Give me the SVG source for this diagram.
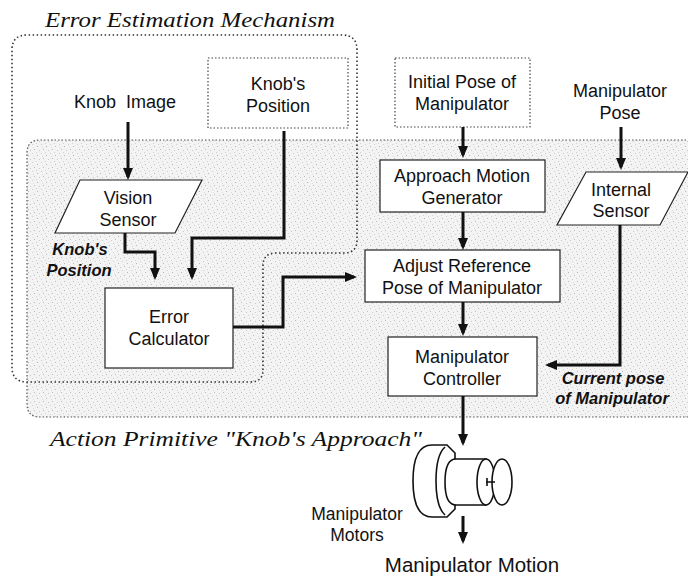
<svg xmlns="http://www.w3.org/2000/svg" width="688" height="577" viewBox="0 0 688 577">
  <defs>
    <!-- fine stipple used for the action-primitive region -->
    <pattern id="stipple" width="9" height="9" patternUnits="userSpaceOnUse">
      <rect width="9" height="9" fill="#f3f3f3"/>
      <rect x="1" y="2" width="1" height="1" fill="#b8b8b8"/>
      <rect x="5" y="0" width="1" height="1" fill="#cfcfcf"/>
      <rect x="7" y="5" width="1" height="1" fill="#bdbdbd"/>
      <rect x="3" y="6" width="1" height="1" fill="#c8c8c8"/>
      <rect x="0" y="8" width="1" height="1" fill="#d2d2d2"/>
      <rect x="6" y="3" width="1" height="1" fill="#dcdcdc"/>
    </pattern>
    <marker id="arrow" viewBox="0 0 12 10" refX="9" refY="5" markerWidth="12" markerHeight="10" markerUnits="userSpaceOnUse" orient="auto">
      <path d="M0,0 L12,5 L0,10 z" fill="#111"/>
    </marker>
  </defs>
  <style>
    .lbl { font-family: "Liberation Sans", Arial, sans-serif; font-size: 18px; fill: #111; text-anchor: middle; }
    .em { font-family: "Liberation Sans", Arial, sans-serif; font-size: 16.5px; font-weight: bold; font-style: italic; fill: #111; text-anchor: middle; }
    .script { font-family: "Liberation Serif", "Times New Roman", serif; font-style: italic; font-size: 21px; fill: #111; }
    .box { fill: #fff; stroke: #222; stroke-width: 1.2; }
    .dbox { fill: #fff; stroke: #444; stroke-width: 1.2; stroke-dasharray: 1.5 2; }
    .region { stroke: #333; stroke-width: 1.6; stroke-dasharray: 1.5 2.5; fill: none; }
    .wire { fill: none; stroke: #111; stroke-width: 3; marker-end: url(#arrow); }
    .part { fill: #fff; stroke: #111; stroke-width: 1.6; }
    .motors { font-size: 17.5px; }
    .motion { font-size: 20.5px; }
  </style>

  <rect width="688" height="577" fill="#fff"/>

  <!-- Action primitive region (shaded) -->
  <g id="action-primitive">
    <path d="M700 140 H40 Q27 140 27 153 V404 Q27 417 40 417 H700 Z" fill="url(#stipple)" stroke="#555" stroke-width="1.2" stroke-dasharray="1.5 2"/>
    <text class="script" x="50" y="446" textLength="372" lengthAdjust="spacingAndGlyphs">Action Primitive  "Knob's Approach"</text>
  </g>

  <!-- Error estimation mechanism boundary -->
  <g id="error-estimation">
    <path class="region" d="M263 370 V266 Q263 253 276 253 H344 Q357 253 357 240 V50 Q357 35 342 35 H27 Q12 35 12 50 V367 Q12 382 27 382 H250 Q263 382 263 370"/>
    <text class="script" x="45" y="27" textLength="290" lengthAdjust="spacingAndGlyphs">Error Estimation Mechanism</text>
  </g>

  <!-- Nodes -->
  <g id="knob-image">
    <text class="lbl" x="125" y="108" xml:space="preserve">Knob  Image</text>
  </g>

  <g id="knobs-position">
    <rect class="dbox" x="208" y="58" width="140" height="70"/>
    <text class="lbl" x="278" y="90">Knob's</text>
    <text class="lbl" x="278" y="112">Position</text>
  </g>

  <g id="vision-sensor">
    <path class="box" d="M80 180 H202 L175 233 H55 Z"/>
    <text class="lbl" x="128" y="204">Vision</text>
    <text class="lbl" x="128" y="226">Sensor</text>
  </g>

  <g id="knobs-position-signal">
    <text class="em" x="80" y="255">Knob's</text>
    <text class="em" x="79" y="276">Position</text>
  </g>

  <g id="error-calculator">
    <rect class="box" x="105" y="288" width="128" height="80"/>
    <text class="lbl" x="169" y="323">Error</text>
    <text class="lbl" x="169" y="345">Calculator</text>
  </g>

  <g id="initial-pose">
    <rect class="dbox" x="395" y="58" width="135" height="69"/>
    <text class="lbl" x="462" y="88">Initial Pose of</text>
    <text class="lbl" x="462" y="110">Manipulator</text>
  </g>

  <g id="approach-motion-generator">
    <rect class="box" x="380" y="160" width="165" height="52"/>
    <text class="lbl" x="462" y="182">Approach Motion</text>
    <text class="lbl" x="462" y="204">Generator</text>
  </g>

  <g id="adjust-reference">
    <rect class="box" x="365" y="250" width="195" height="52"/>
    <text class="lbl" x="462" y="272">Adjust Reference</text>
    <text class="lbl" x="462" y="294">Pose of Manipulator</text>
  </g>

  <g id="manipulator-controller">
    <rect class="box" x="388" y="337" width="149" height="59"/>
    <text class="lbl" x="462" y="363">Manipulator</text>
    <text class="lbl" x="462" y="385">Controller</text>
  </g>

  <g id="manipulator-pose">
    <text class="lbl" x="620" y="97">Manipulator</text>
    <text class="lbl" x="620" y="119">Pose</text>
  </g>

  <g id="internal-sensor">
    <path class="box" d="M586 172 H688 L660 225 H557 Z"/>
    <text class="lbl" x="621" y="196">Internal</text>
    <text class="lbl" x="621" y="217">Sensor</text>
  </g>

  <g id="current-pose-signal">
    <text class="em" x="613" y="384">Current pose</text>
    <text class="em" x="612" y="404">of Manipulator</text>
  </g>

  <g id="manipulator-motors">
    <!-- base disk -->
    <path class="part" d="M432 445 H447 L455 453 V509 L447 517 H432 Q413 517 413 481 Q413 445 432 445 Z"/>
    <path d="M445 447 Q436 455 436 481 Q436 507 445 515" fill="none" stroke="#111" stroke-width="1.6"/>
    <!-- shaft -->
    <path class="part" d="M456 459 H486 V505 H456 Q445 505 445 482 Q445 459 456 459 Z"/>
    <ellipse class="part" cx="486" cy="482" rx="9" ry="23"/>
    <!-- knob disk -->
    <ellipse class="part" cx="502" cy="482" rx="10" ry="23"/>
    <path d="M486 482 H495 M487 478 V486" fill="none" stroke="#111" stroke-width="1.6"/>
    <text class="lbl motors" x="357" y="520">Manipulator</text>
    <text class="lbl motors" x="357" y="541">Motors</text>
  </g>

  <g id="manipulator-motion">
    <text class="lbl motion" x="472" y="572">Manipulator Motion</text>
  </g>

  <!-- Connectors -->
  <g id="connectors">
    <path class="wire" d="M128 122 V177"/>
    <path class="wire" d="M125 233 V252 H155 V277"/>
    <path class="wire" d="M284 131 V238 H192 V277"/>
    <path class="wire" d="M233 327 H283 V277 H354"/>
    <path class="wire" d="M463 127 V155"/>
    <path class="wire" d="M463 212 V247"/>
    <path class="wire" d="M463 302 V333"/>
    <path class="wire" d="M463 396 V443"/>
    <path class="wire" d="M463 516 V541"/>
    <path class="wire" d="M621 127 V167"/>
    <path class="wire" d="M620 225 V365 H548"/>
  </g>
</svg>
